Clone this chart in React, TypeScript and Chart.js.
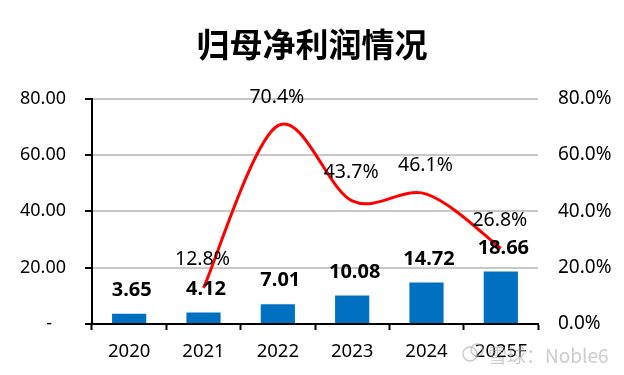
import React, { useEffect, useRef } from "react";
import { Chart, registerables } from "chart.js";

Chart.register(...registerables);

const categories = ["2020", "2021", "2022", "2023", "2024", "2025F"];
const profit = [3.65, 4.12, 7.01, 10.08, 14.72, 18.66];
const growth: (number | null)[] = [null, 12.8, 70.4, 43.7, 46.1, 26.8];
const titleText = "归母净利润情况";
const watermark = "雪球：Noble6";
const FONT = '"Noto Sans", "Noto Sans CJK SC", sans-serif';

// Office-style smoothing: tangent at each point follows its two neighbours.
const officeSmooth = {
  id: "officeSmooth",
  beforeDatasetsDraw(chart: any) {
    const line = chart.getDatasetMeta(1).dataset;
    const pts = line.points.filter((p: any) => !p.skip);
    line.updateControlPoints(chart.chartArea, "x");
    const k = 1 / 6;
    pts.forEach((p: any, i: number) => {
      const prev = pts[Math.max(i - 1, 0)];
      const next = pts[Math.min(i + 1, pts.length - 1)];
      const dx = (next.x - prev.x) * k;
      const dy = (next.y - prev.y) * k;
      p.cp1x = p.x - dx;
      p.cp1y = p.y - dy;
      p.cp2x = p.x + dx;
      p.cp2y = p.y + dy;
    });
  },
};

const overlay = {
  id: "overlay",
  afterDatasetsDraw(chart: any) {
    const { ctx } = chart;
    ctx.save();
    ctx.textAlign = "center";
    ctx.textBaseline = "middle";
    ctx.fillStyle = "#000";
    ctx.font = `19.5px ${FONT}`;
    chart.getDatasetMeta(1).data.forEach((el: any, i: number) => {
      if (growth[i] == null) return;
      ctx.fillText(growth[i]!.toFixed(1) + "%", el.x - 1, el.y - 28.5);
    });
    ctx.font = `bold 20px ${FONT}`;
    chart.getDatasetMeta(0).data.forEach((el: any, i: number) => {
      ctx.fillText(profit[i].toFixed(2), el.x + 2.5, el.y - 23.5);
    });
    // watermark
    ctx.strokeStyle = "rgba(170,170,170,0.6)";
    ctx.lineWidth = 1.5;
    ctx.beginPath();
    ctx.arc(470, 354, 7, 0, Math.PI * 2);
    ctx.stroke();
    ctx.beginPath();
    ctx.arc(477, 350, 6, 0, Math.PI * 2);
    ctx.stroke();
    ctx.fillStyle = "rgba(170,170,170,0.6)";
    ctx.textAlign = "left";
    ctx.font = `19px "Noto Sans CJK SC", ${FONT}`;
    ctx.fillText(watermark, 488, 356);
    ctx.restore();
  },
};

export default function App() {
  const ref = useRef<HTMLCanvasElement>(null);
  useEffect(() => {
    const chart = new Chart(ref.current!, {
      type: "bar",
      data: {
        labels: categories,
        datasets: [
          {
            type: "bar",
            data: profit,
            backgroundColor: "#0070C0",
            barPercentage: 0.46,
            categoryPercentage: 1,
            yAxisID: "y",
            order: 2,
          },
          {
            type: "line",
            data: growth,
            borderColor: "#FF0000",
            borderWidth: 3,
            tension: 0.5,
            pointRadius: 0,
            yAxisID: "y2",
            order: 1,
            spanGaps: false,
          },
        ],
      } as any,
      plugins: [officeSmooth, overlay],
      options: {
        responsive: false,
        animation: false,
        layout: { padding: 0 },
        plugins: {
          legend: { display: false },
          tooltip: { enabled: false },
          title: {
            display: true,
            text: titleText,
            color: "#000",
            font: { family: '"Noto Sans CJK SC", sans-serif', size: 33, weight: "bold" },
            padding: { top: 25, bottom: 34 },
          },
        },
        scales: {
          x: {
            grid: {
              display: true,
              drawOnChartArea: false,
              drawTicks: true,
              tickLength: 6,
              tickColor: "#000",
              tickWidth: 2,
              offset: true,
            },
            border: { color: "#000", width: 2 },
            ticks: { color: "#000", font: { family: FONT, size: 18.5 }, padding: 11, maxRotation: 0 },
            afterFit(s: any) {
              s.height = 51;
            },
          },
          y: {
            min: 0,
            max: 80,
            position: "left",
            grid: {
              color: "#c8c8c8",
              lineWidth: 2,
              tickColor: "#000",
              tickWidth: 2,
              tickLength: 7,
            },
            border: { color: "#000", width: 2 },
            ticks: {
              stepSize: 20,
              color: "#000",
              padding: 19,
              font: { family: FONT, size: 18 },
              callback: (v: any) => (v === 0 ? "-\u00a0\u00a0\u00a0" : Number(v).toFixed(2)),
            },
            afterFit(s: any) {
              s.width = 92;
            },
          },
          y2: {
            min: 0,
            max: 80,
            position: "right",
            grid: { display: false, drawTicks: false, tickLength: 0 },
            border: { display: false },
            ticks: {
              stepSize: 20,
              color: "#000",
              padding: 20,
              font: { family: FONT, size: 19 },
              callback: (v: any) => Number(v).toFixed(1) + "%",
            },
            afterFit(s: any) {
              s.width = 86;
            },
          },
        },
      } as any,
    });
    return () => chart.destroy();
  }, []);
  return (
    <canvas
      ref={ref}
      width={624}
      height={375}
      style={{ position: "absolute", left: 0, top: 0, display: "block" }}
    />
  );
}
